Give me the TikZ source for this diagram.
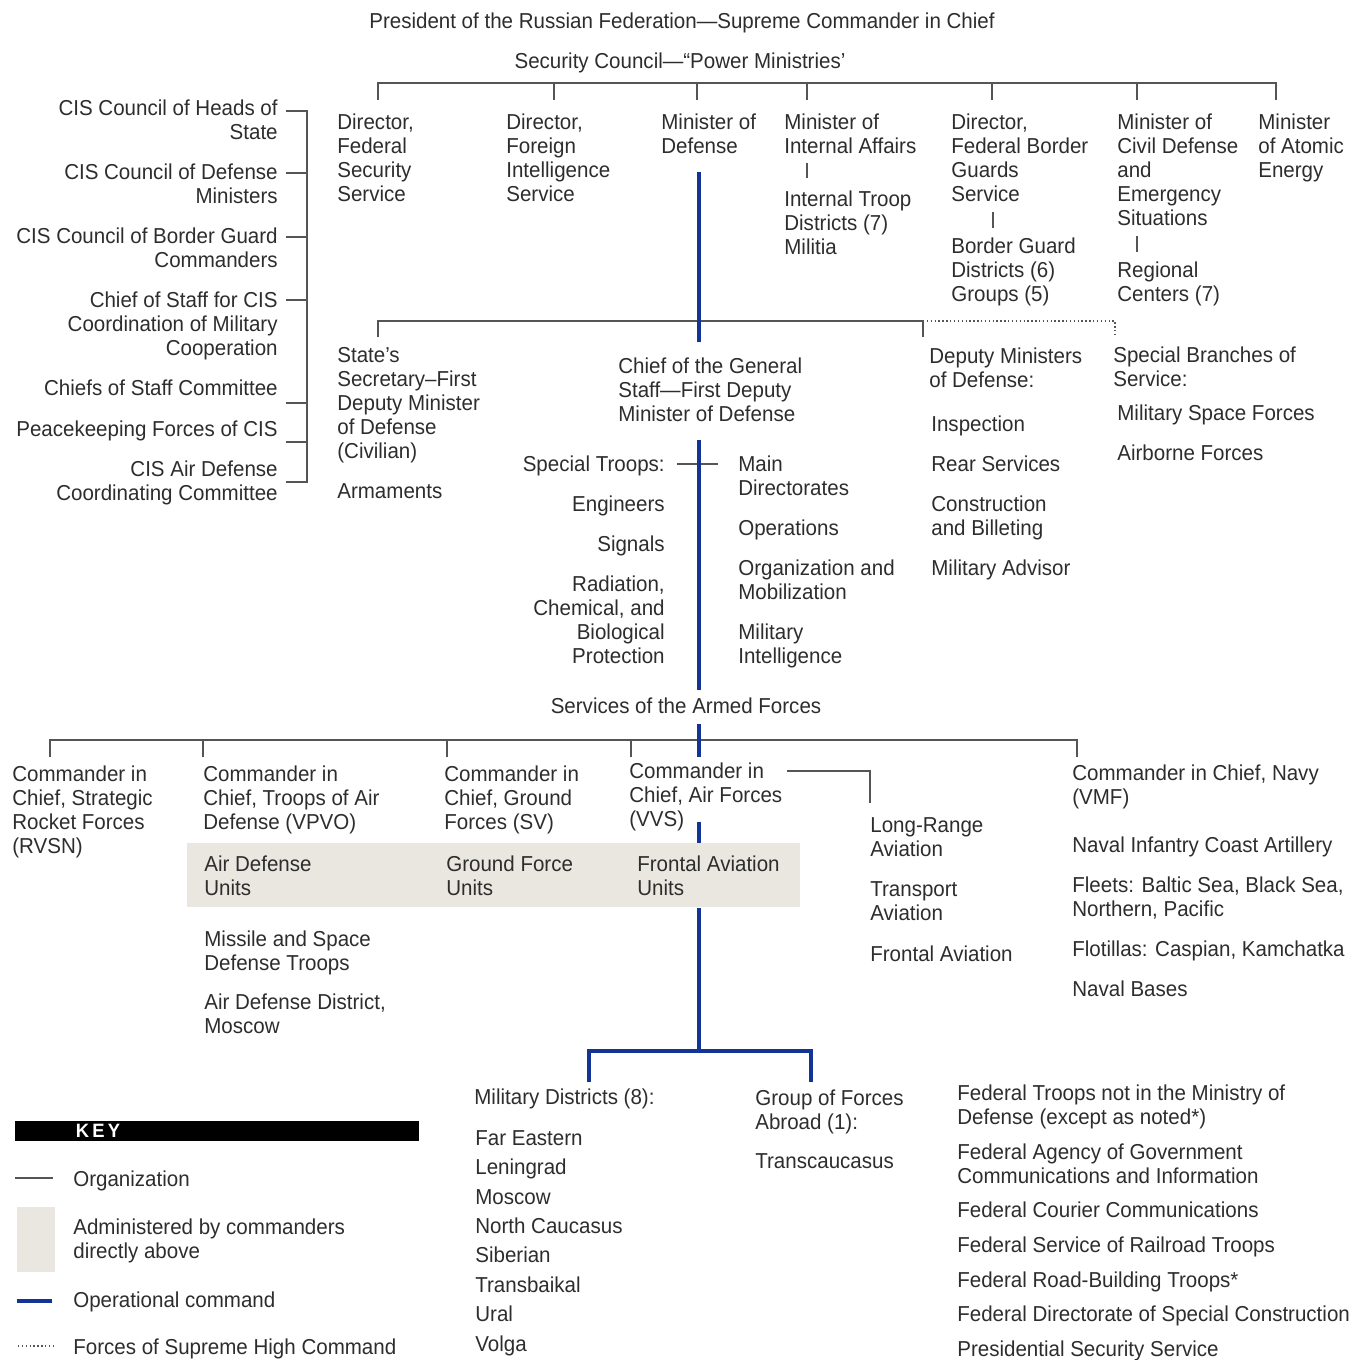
\documentclass[tikz,border=0pt]{standalone}
\definecolor{inkgray}{RGB}{45, 45, 45}
\definecolor{linegray}{RGB}{85, 85, 85}
\definecolor{opblue}{RGB}{18, 52, 150}
\definecolor{bandbeige}{RGB}{234, 231, 224}
\usepackage{fontspec}
\setmainfont[FakeStretch=0.95]{Liberation Sans}
\usepackage{tikz}
\usetikzlibrary{positioning, calc}
\newcommand{\chartfont}{\fontsize{12.3}{13.66}\selectfont}
\tikzset{
  txt/.style={inner sep=0pt, align=left, anchor=north west, text=inkgray, font=\chartfont},
  txtr/.style={txt, align=right, anchor=north east},
  txtc/.style={txt, align=center, anchor=north},
  org/.style={draw=linegray, line width=0.9pt},
  opcmd/.style={draw=opblue, line width=2.4pt},
  shq/.style={draw=linegray, line width=0.9pt, dash pattern=on 0.8pt off 1.4pt},
}

\begin{document}
\begin{tikzpicture}[x=0.02cm, y=-0.02cm]
  \useasboundingbox (0,0) rectangle (1372,1359);

  % Shaded band
  \fill[bandbeige] (187,843) rectangle (800,907);

  % Head
  \node[txtc] (pres) at (682,12) {President of the Russian Federation---Supreme Commander in Chief};
  \node[txtc] (sec) at (680,52) {Security Council---``Power Ministries'};

  % CIS bodies
  \node[txtr] (cis1) at (278,99) {CIS Council of Heads of\\State};
  \node[txtr] (cis2) at (278,163) {CIS Council of Defense\\Ministers};
  \node[txtr] (cis3) at (278,227) {CIS Council of Border Guard\\Commanders};
  \node[txtr] (cis4) at (278,291) {Chief of Staff for CIS\\Coordination of Military\\Cooperation};
  \node[txtr] (cis5) at (278,379) {Chiefs of Staff Committee};
  \node[txtr] (cis6) at (278,420) {Peacekeeping Forces of CIS};
  \node[txtr] (cis7) at (278,460) {CIS Air Defense\\Coordinating Committee};

  \coordinate (b1) at (286,111);
  \coordinate (b2) at (286,173);
  \coordinate (b3) at (286,237);
  \coordinate (b4) at (286,300);
  \coordinate (b5) at (286,403);
  \coordinate (b6) at (286,442);
  \coordinate (b7) at (286,482);
  \coordinate (bTop) at (307,111);
  \coordinate (bBot) at (307,482);
  \draw[org] (b1) -- (bTop) -- (bBot) -- (b7);
  \foreach \n in {b2,b3,b4,b5,b6}
    \draw[org] (\n) -- (\n -| bTop);

  % Power ministries
  \node[txt] (fss) at (337,113) {Director,\\Federal\\Security\\Service};
  \node[txt] (svr) at (506,113) {Director,\\Foreign\\Intelligence\\Service};
  \node[txt] (mod) at (661,113) {Minister of\\Defense};
  \node[txt] (mvd) at (784,113) {Minister of\\Internal Affairs};
  \node[txt] (mvdsub) at (784,190) {Internal Troop\\Districts (7)\\Militia};
  \node[txt] (fps) at (951,113) {Director,\\Federal Border\\Guards\\Service};
  \node[txt] (fpssub) at (951,237) {Border Guard\\Districts (6)\\Groups (5)};
  \node[txt] (mchs) at (1117,113) {Minister of\\Civil Defense\\and\\Emergency\\Situations};
  \node[txt] (mchssub) at (1117,261) {Regional\\Centers (7)};
  \node[txt] (atom) at (1258,113) {Minister\\of Atomic\\Energy};

  \coordinate (topR) at (1276,83);
  \coordinate (fssT) at (378,100);
  \coordinate (svrT) at (554,100);
  \coordinate (modT) at (697,100);
  \coordinate (mvdT) at (807,100);
  \coordinate (fpsT) at (992,100);
  \coordinate (mchsT) at (1137,100);
  \coordinate (atomT) at (1276,100);
  \draw[org] (fssT) |- (topR) -- (atomT);
  \foreach \n in {svrT,modT,mvdT,fpsT,mchsT}
    \draw[org] (\n) -- (\n |- topR);

  \coordinate (mvdA) at (807,163);
  \coordinate (mvdB) at (807,178);
  \coordinate (fpsA) at (993,212);
  \coordinate (fpsB) at (993,228);
  \coordinate (mchsA) at (1137,236);
  \coordinate (mchsB) at (1137,252);
  \draw[org] (mvdA) -- (mvdB);
  \draw[org] (fpsA) -- (fpsB);
  \draw[org] (mchsA) -- (mchsB);

  % Ministry of Defense
  \node[txt] (statesec) at (337,347) {State's\\Secretary--First\\Deputy Minister\\of Defense\\(Civilian)};
  \node[txt] (arms) at (337,483) {Armaments};
  \node[txt] (cgs) at (618,357) {Chief of the General\\Staff---First Deputy\\Minister of Defense};
  \node[txt] (depmin) at (929,347) {Deputy Ministers\\of Defense:};
  \node[txt] (insp) at (931,415) {Inspection};
  \node[txt] (rear) at (931,455) {Rear Services};
  \node[txt] (constr) at (931,495) {Construction\\and Billeting};
  \node[txt] (advisor) at (931,559) {Military Advisor};
  \node[txt] (specbr) at (1113,346) {Special Branches of\\Service:};
  \node[txt] (space) at (1117,404) {Military Space Forces};
  \node[txt] (airborne) at (1117,444) {Airborne Forces};

  \coordinate (midR) at (923,321);
  \coordinate (ssT) at (378,337);
  \coordinate (dmT) at (923,337);
  \coordinate (sbT) at (1115,337);
  \draw[org] (ssT) |- (midR) -- (dmT);
  \draw[shq] (midR) -| (sbT);

  % General Staff
  \node[txtr] (spectr) at (665,455) {Special Troops:};
  \node[txtr] (eng) at (665,495) {Engineers};
  \node[txtr] (signals) at (665,535) {Signals};
  \node[txtr] (rchb) at (665,575) {Radiation,\\Chemical, and\\Biological\\Protection};
  \node[txt] (maindir) at (738,455) {Main\\Directorates};
  \node[txt] (ops) at (738,519) {Operations};
  \node[txt] (orgmob) at (738,559) {Organization and\\Mobilization};
  \node[txt] (milint) at (738,623) {Military\\Intelligence};

  \coordinate (stL) at (677,464);
  \coordinate (stR) at (718,464);
  \draw[org] (stL) -- (stR);

  % Services
  \node[txtc] (services) at (686,697) {Services of the Armed Forces};
  \node[txt] (rvsn) at (12,765) {Commander in\\Chief, Strategic\\Rocket Forces\\(RVSN)};
  \node[txt] (vpvo) at (203,765) {Commander in\\Chief, Troops of Air\\Defense (VPVO)};
  \node[txt] (sv) at (444,765) {Commander in\\Chief, Ground\\Forces (SV)};
  \node[txt] (vvs) at (629,762) {Commander in\\Chief, Air Forces\\(VVS)};
  \node[txt] (adunits) at (204,855) {Air Defense\\Units};
  \node[txt] (gfunits) at (446,855) {Ground Force\\Units};
  \node[txt] (faunits) at (637,855) {Frontal Aviation\\Units};
  \node[txt] (missile) at (204,930) {Missile and Space\\Defense Troops};
  \node[txt] (admoscow) at (204,993) {Air Defense District,\\Moscow};
  \node[txt] (lra) at (870,817) {Long-Range\\Aviation};
  \node[txt] (transp) at (870,881) {Transport\\Aviation};
  \node[txt] (frontal) at (870,945) {Frontal Aviation};
  \node[txt] (navy) at (1072,764) {Commander in Chief, Navy\\(VMF)};
  \node[txt] (naval) at (1072,836) {Naval Infantry Coast Artillery};
  \node[txt] (fleets) at (1072,876) {Fleets: Baltic Sea, Black Sea,\\Northern, Pacific};
  \node[txt] (flotillas) at (1072,940) {Flotillas: Caspian, Kamchatka};
  \node[txt] (bases) at (1072,980) {Naval Bases};

  \coordinate (svcR) at (1077,740);
  \coordinate (rvsnT) at (50,757);
  \coordinate (vpvoT) at (203,757);
  \coordinate (svT) at (447,757);
  \coordinate (vvsT) at (631,757);
  \coordinate (navyT) at (1077,757);
  \draw[org] (rvsnT) |- (svcR) -- (navyT);
  \foreach \n in {vpvoT,svT,vvsT}
    \draw[org] (\n) -- (\n |- svcR);

  \coordinate (vvsA) at (787,771);
  \coordinate (lraT) at (870,803);
  \draw[org] (vvsA) -| (lraT);

  % Operational command
  \coordinate (op1) at (699,172);
  \coordinate (op2) at (699,342);
  \coordinate (op3) at (699,440);
  \coordinate (op4) at (699,690);
  \coordinate (op5) at (699,724);
  \coordinate (op6) at (699,757);
  \coordinate (op7) at (699,822);
  \coordinate (op8) at (699,843);
  \coordinate (op9) at (699,908);
  \coordinate (op10) at (699,1051);
  \coordinate (mdT) at (589,1082);
  \coordinate (gfaT) at (811,1082);
  \draw[opcmd] (op1) -- (op2);
  \draw[opcmd] (op3) -- (op4);
  \draw[opcmd] (op5) -- (op6);
  \draw[opcmd] (op7) -- (op8);
  \draw[opcmd] (op9) -- (op10);
  \draw[opcmd] (mdT) |- (op10) -| (gfaT);

  % Districts and groups
  \node[txt] (md) at (474,1088) {Military Districts (8):};
  \node[txt, font=\fontsize{12.3}{16.75}\selectfont] (mdlist) at (475,1130)
    {Far Eastern\\Leningrad\\Moscow\\North Caucasus\\Siberian\\Transbaikal\\Ural\\Volga};
  \node[txt] (gfa) at (755,1089) {Group of Forces\\Abroad (1):};
  \node[txt] (transc) at (755,1153) {Transcaucasus};

  % Federal troops
  \node[txt] (fed1) at (957,1084) {Federal Troops not in the Ministry of\\Defense (except as noted*)};
  \node[txt] (fed2) at (957,1143) {Federal Agency of Government\\Communications and Information};
  \node[txt] (fed3) at (957,1201) {Federal Courier Communications};
  \node[txt] (fed4) at (957,1236) {Federal Service of Railroad Troops};
  \node[txt] (fed5) at (957,1271) {Federal Road-Building Troops*};
  \node[txt] (fed6) at (957,1305) {Federal Directorate of Special Construction};
  \node[txt] (fed7) at (957,1340) {Presidential Security Service};

  % Key
  \fill[black] (15,1121) rectangle (419,1141);
  \node[txtc, text=white, font=\fontsize{11}{12}\selectfont\bfseries] (keyt) at (98,1124) {K\,E\,Y};
  \draw[org] (15,1178) -- (53,1178);
  \node[txt] (korg) at (73,1170) {Organization};
  \fill[bandbeige] (17,1207) rectangle (55,1272);
  \node[txt] (kadm) at (73,1218) {Administered by commanders\\directly above};
  \draw[opcmd] (17,1301) -- (52,1301);
  \node[txt] (kop) at (73,1291) {Operational command};
  \draw[shq] (18,1346) -- (53,1346);
  \node[txt] (kshq) at (73,1338) {Forces of Supreme High Command};
\end{tikzpicture}
\end{document}
